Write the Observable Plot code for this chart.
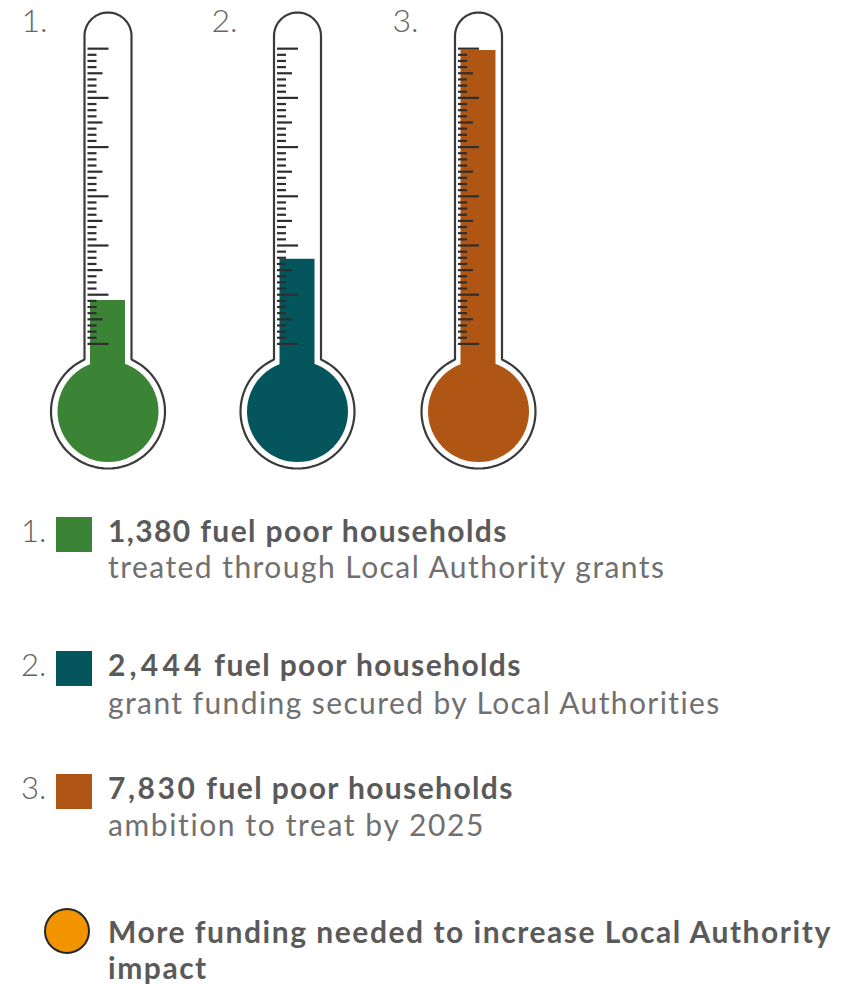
<!DOCTYPE html>
<html>
<head>
<meta charset="utf-8">
<script src="https://cdn.jsdelivr.net/npm/d3@7"></script>
<script src="https://cdn.jsdelivr.net/npm/@observablehq/plot@0.6"></script>
<style>
  html, body { margin: 0; padding: 0; background: #fff; }
  body { width: 852px; height: 984px; overflow: hidden; position: relative; font-family: Lato, sans-serif; }
  svg { display: block; }
  .row { position: absolute; white-space: nowrap; line-height: 1; }
  .num { font-size: 31px; font-weight: 300; color: #5f5f5f; left: 21px; }
  .head { font-size: 30px; font-weight: 700; color: #5a5a5a; left: 108px; letter-spacing: 1.38px; }
  .sub { font-size: 30px; color: #707070; left: 108px; letter-spacing: 1.45px; }
  .note-text { letter-spacing: 1.53px; }
  .swatch { position: absolute; left: 56px; width: 36px; height: 35px; }
  .note { position: absolute; left: 44px; top: 908px; width: 42px; height: 42px; border-radius: 50%;
          border: 2px solid #262626; background: #f29400; }
</style>
</head>
<body>
<script>
// Households treated, funded and targeted
const labels = ["1.", "2.", "3."];
const households = [1380, 2444, 7830];
const captions = [
  "treated through Local Authority grants",
  "grant funding secured by Local Authorities",
  "ambition to treat by 2025"
];
const colors = ["#3b8335", "#04555c", "#b05614"];
const noteLines = ["More funding needed to increase Local Authority", "impact"];

// Layout of the thermometers, in screen pixels along x
const centres = [107.5, 297, 478];
const labelLefts = [21, 211, 392];
const chartHeight = 490;

// Vertical scale: households per pixel, and the pixel row holding zero
const perPixel = 25.8;
const zeroRow = 353.5;
const level = (row) => (zeroRow - row) * perPixel;

// Scale graduations: 48 intervals, long every 8th, medium every 4th
const gradBase = 260;
const gradStep = 158.7;
const gradCount = 48;
const ticks = centres.flatMap((c) =>
  d3.range(gradCount + 1).map((i) => ({
    x1: c - 20,
    x2: c - 20 + (i % 8 === 0 ? 21 : i % 4 === 0 ? 15 : 9),
    y: gradBase + i * gradStep
  }))
);

// Closed glass outline: rounded tube top running into the round bulb
const tubeR = 23.5, bulbR = 57, tubeTop = 35.5, bulbRow = 411;
function outline(c, id) {
  const pts = [];
  for (let a = 180; a <= 360; a += 5) {
    const t = a * Math.PI / 180;
    pts.push({ id, x: c + tubeR * Math.cos(t), y: level(tubeTop + tubeR * Math.sin(t)) });
  }
  const start = Math.asin(tubeR / bulbR) * 180 / Math.PI;
  for (let a = start; a <= 360 - start + 0.01; a += (360 - 2 * start) / 72) {
    const t = a * Math.PI / 180;
    pts.push({ id, x: c + bulbR * Math.sin(t), y: level(bulbRow - bulbR * Math.cos(t)) });
  }
  pts.push(pts[0]);
  return pts;
}
const glass = centres.flatMap((c, i) => outline(c, i));

const rows = households.map((value, i) => ({ value, color: colors[i], centre: centres[i], label: labels[i], left: labelLefts[i] }));

const chart = Plot.plot({
  width: 852,
  height: chartHeight,
  margin: 0,
  x: { domain: [0, 852], range: [0, 852], axis: null },
  y: { domain: [level(chartHeight), level(0)], range: [chartHeight, 0], axis: null },
  marks: [
    // Mercury: the bulb, then the column rising to each value
    Plot.dot(rows, {
      x: "centre", y: () => level(bulbRow), r: 50.5, fill: "color", stroke: null
    }),
    Plot.rect(rows, {
      x1: (d) => d.centre - 17.5, x2: (d) => d.centre + 17.5,
      y1: () => level(375), y2: "value", fill: "color", inset: 0
    }),
    Plot.ruleY(ticks, {
      y: "y", x1: "x1", x2: "x2", stroke: "#2e2e2e", strokeWidth: 2.2
    }),
    Plot.line(glass, {
      x: "x", y: "y", z: "id", stroke: "#3a3a3a", strokeWidth: 2.2, curve: "linear", strokeLinejoin: "miter"
    }),
    Plot.text(rows, {
      x: "left", y: () => level(21), text: "label",
      textAnchor: "start", fontSize: 32, fontWeight: 300, fill: "#666", fontFamily: "Lato"
    })
  ]
});
document.body.appendChild(chart);

// Key below the chart
const rowTops = [517, 651, 774];
const headTops = [515, 649, 772];
const subTops = [551, 687, 809];
const numberTracking = [1.38, 4.2, 2.6];
const captionTracking = [1.45, 1.4, 1.61];
const fmt = d3.format(",");
function addRow(cls, top, text) {
  const el = document.createElement("div");
  el.className = "row " + cls;
  el.style.top = top + "px";
  el.textContent = text;
  document.body.appendChild(el);
  return el;
}
rows.forEach((d, i) => {
  addRow("num", headTops[i], d.label);
  const sw = document.createElement("div");
  sw.className = "swatch";
  sw.style.top = rowTops[i] + "px";
  sw.style.background = d.color;
  document.body.appendChild(sw);
  const head = addRow("head", headTops[i], "");
  const figure = document.createElement("span");
  figure.style.letterSpacing = numberTracking[i] + "px";
  figure.textContent = fmt(d.value);
  head.append(figure, " fuel poor households");
  addRow("sub", subTops[i], captions[i]).style.letterSpacing = captionTracking[i] + "px";
});
const dot = document.createElement("div");
dot.className = "note";
document.body.appendChild(dot);
addRow("head note-text", 916, noteLines[0]);
addRow("head note-text", 952, noteLines[1]);
</script>
</body>
</html>
